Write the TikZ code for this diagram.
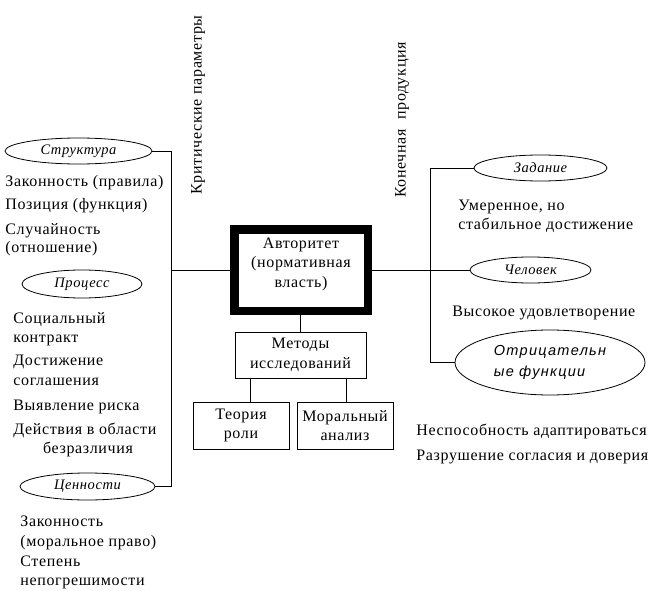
\documentclass[tikz,border=0pt]{standalone}
\usepackage{fontspec}
\setmainfont{Liberation Serif}[LetterSpace=4]
\newfontfamily\arialfont{Liberation Sans}[LetterSpace=9]
\usetikzlibrary{shapes.geometric}

\tikzset{
  oval/.style={draw, ellipse, inner sep=0pt, line width=0.8pt,
    font=\fontsize{14.5}{15}\selectfont\itshape},
  txt/.style={inner sep=0pt, anchor=base west, font=\fontsize{16}{19}\selectfont},
  box/.style={draw, inner sep=0pt, align=center, line width=0.8pt,
    font=\fontsize{16}{19.5}\selectfont},
  vtxt/.style={inner sep=0pt, rotate=90, font=\fontsize{16}{19}\selectfont},
}

\begin{document}
\begin{tikzpicture}[x=1pt,y=1pt,line width=0.8pt]
\useasboundingbox (0,0) rectangle (672,-591);

% central boxes
\node[box, line width=8.5pt, minimum width=133.5, minimum height=81.5, text depth=15pt]
  (auth) at (301,-270) {Авторитет\\(нормативная\\власть)};
\node[box, minimum width=131, minimum height=46] (meth) at (300.5,-355) {Методы\\исследований};
\node[box, minimum width=96, minimum height=47] (teo) at (241,-425.5) {Теория\\роли};
\node[box, minimum width=96, minimum height=47] (mor) at (345,-425.5) {Моральный\\анализ};

% ovals
\node[oval, minimum width=147, minimum height=26] (str) at (78.5,-151) {Структура};
\node[oval, minimum width=120, minimum height=28] (proc) at (82,-284) {Процесс};
\node[oval, minimum width=135, minimum height=27] (cen) at (87.5,-486.5) {Ценности};
\node[oval, minimum width=133, minimum height=26] (zad) at (540.5,-168) {Задание};
\node[oval, minimum width=121, minimum height=26] (chel) at (530.5,-270) {Человек};
\node[oval, minimum width=190, minimum height=65, align=left,
  font=\fontsize{14.5}{21}\selectfont\arialfont\itshape] (otr) at (550,-362.5)
  {Отрицательн\\ые функции};

% rotated captions
\node[vtxt] (krit) at (198,-105) {Критические параметры};
\node[vtxt] (kon) at (402,-120) {Конечная\ \ продукция};

% texts
\foreach \t/\y [count=\i] in {Законность (правила)/186, Позиция (функция)/209,
  Случайность/234, (отношение)/252}
  \node[txt] (a\i) at (5,-\y) {\t};
\foreach \t/\y [count=\i] in {Социальный/323, контракт/342, Достижение/365,
  соглашения/385, Выявление риска/410, Действия в области/434}
  \node[txt] (b\i) at (13,-\y) {\t};
\node[txt, anchor=base] (b7) at (88,-453) {безразличия};
\foreach \t/\y [count=\i] in {Законность/526, (моральное право)/546,
  Степень/566, непогрешимости/585}
  \node[txt] (c\i) at (20,-\y) {\t};
\node[txt] (d1) at (458,-210) {Умеренное, но};
\node[txt] (d2) at (458,-229) {стабильное достижение};
\node[txt] (e1) at (452,-316) {Высокое удовлетворение};
\node[txt] (f1) at (416,-435) {Неспособность адаптироваться};
\node[txt] (f2) at (416,-460) {Разрушение согласия и доверия};

% connectors
\coordinate (lft) at (171,-270);
\coordinate (rgt) at (430,-270);
\draw (str.east) -| (lft);
\draw (cen.east) -| (lft);
\draw (lft) -- (auth.west);
\draw (auth.east) -- (chel.west);
\draw (zad.west) -| (rgt);
\draw (otr.west) -| (rgt);
\draw (meth.north |- auth.south) -- (meth.north);
\draw ([xshift=9]teo.north |- meth.south) -- ([xshift=9]teo.north);
\draw ([xshift=1]mor.north |- meth.south) -- ([xshift=1]mor.north);
\end{tikzpicture}
\end{document}
